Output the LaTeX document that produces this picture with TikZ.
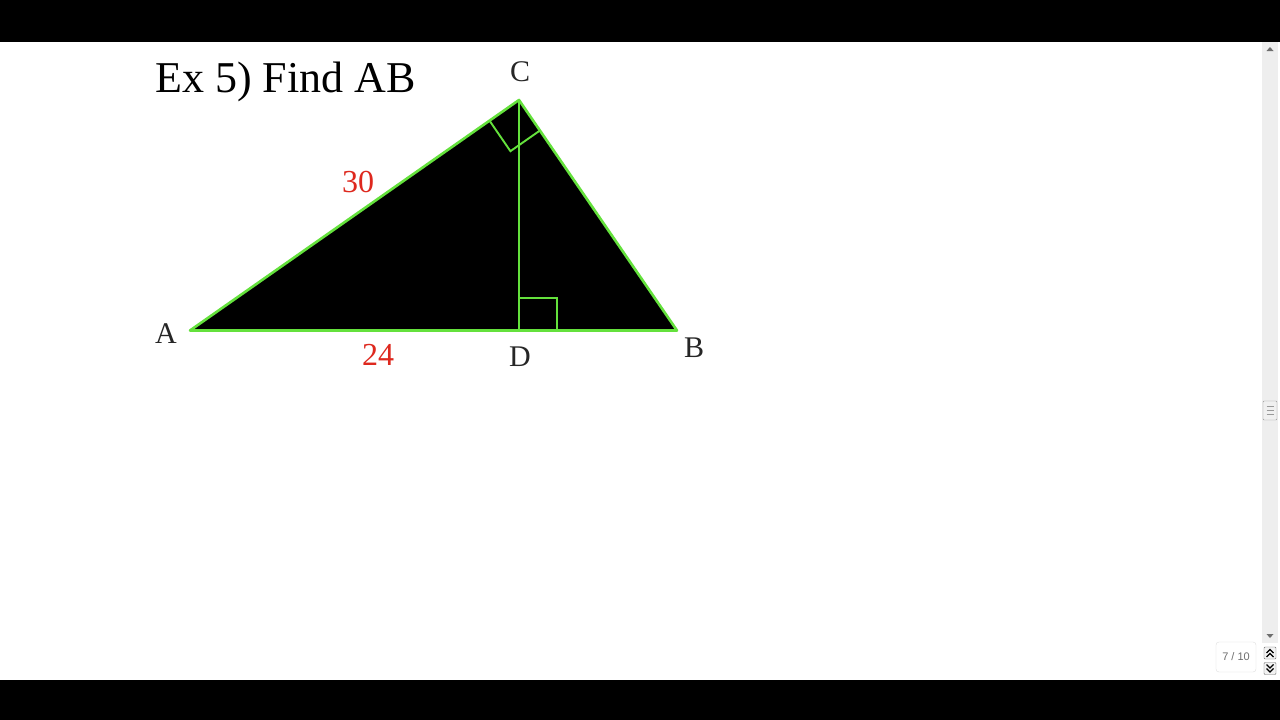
\documentclass[tikz,border=0pt]{standalone}
\usepackage{fontspec}
\setmainfont{Liberation Serif}
\newfontfamily\uifont{Liberation Sans}
\usetikzlibrary{calc}
\definecolor{edgegreen}{RGB}{100,225,60}
\definecolor{labelred}{RGB}{222,40,30}
\definecolor{trackgray}{RGB}{238,238,238}
\definecolor{uigray}{RGB}{110,110,110}
\tikzset{
  vlabel/.style={font=\fontsize{30}{34}\selectfont, text=black!85, inner sep=0pt},
  slabel/.style={font=\fontsize{32}{36}\selectfont, text=labelred, inner sep=0pt},
  edge/.style={draw=edgegreen, line width=2.6pt, line join=round},
  rmark/.style={draw=edgegreen, line width=1.9pt},
}
\begin{document}
\begin{tikzpicture}[x=1pt,y=-1pt]
\useasboundingbox (0,0) rectangle (1280,720);
% frame
\fill[white] (0,0) rectangle (1280,720);
\fill[black] (0,0) rectangle (1280,42);
\fill[black] (0,680) rectangle (1280,720);
% scrollbar
\fill[trackgray] (1262,42) rectangle (1278,643);
\fill[uigray] (1266.5,51) -- (1273.5,51) -- (1270,47) -- cycle;
\fill[uigray] (1266.5,634) -- (1273.5,634) -- (1270,638) -- cycle;
\node[draw=gray!80, fill=gray!12, rounded corners=1pt, minimum width=14pt, minimum height=19pt, inner sep=0pt] (thumb) at (1270,410.5) {};
\draw[gray!80, line width=0.8pt] (1266.5,406.5) -- (1273.5,406.5) (1266.5,410.5) -- (1273.5,410.5) (1266.5,414.5) -- (1273.5,414.5);
% page indicator
\node[draw=gray!25, rounded corners=3pt, minimum width=40pt, minimum height=30pt, inner sep=0pt, font=\uifont\fontsize{11}{12}\selectfont, text=uigray] (page) at (1236,657) {7 / 10};
\node[draw=uigray, fill=gray!10, rounded corners=1pt, minimum width=12pt, minimum height=12pt, inner sep=0pt] (up) at (1270,653) {};
\node[draw=uigray, fill=gray!10, rounded corners=1pt, minimum width=12pt, minimum height=12pt, inner sep=0pt] (down) at (1270,668.5) {};
\draw[black, line width=1.2pt] (1266.5,653) -- (1270,649.5) -- (1273.5,653) (1266.5,657) -- (1270,653.5) -- (1273.5,657);
\draw[black, line width=1.2pt] (1266.5,664.5) -- (1270,668) -- (1273.5,664.5) (1266.5,668.5) -- (1270,672) -- (1273.5,668.5);
% title
\node[anchor=base west, inner sep=0pt, font=\fontsize{44}{50}\selectfont] (title) at (155,92) {Ex 5) Find AB};
% triangle
\coordinate (A) at (190,330.5);
\coordinate (B) at (677,330.5);
\coordinate (C) at (519,100);
\coordinate (D) at (519,330.5);
\fill[black] (A) -- (B) -- (C) -- cycle;
% right angle at D
\draw[rmark] (519,298) -- (557,298) -- (557,330.5);
% right angle at C
\coordinate (Ca) at ($(C)!36pt!(A)$);
\coordinate (Cb) at ($(C)!37pt!(B)$);
\draw[rmark] (Ca) -- ($(Ca)+(Cb)-(C)$) -- (Cb);
\draw[edge] (C) -- (D);
\draw[edge] (A) -- (B) -- (C) -- cycle;
% labels
\node[vlabel] (lA) at (166,334) {A};
\node[vlabel] (lB) at (694,348) {B};
\node[vlabel] (lC) at (520,72) {C};
\node[vlabel] (lD) at (520,357) {D};
\node[slabel] (l30) at (358,182) {30};
\node[slabel] (l24) at (378,355) {24};
\end{tikzpicture}
\end{document}
